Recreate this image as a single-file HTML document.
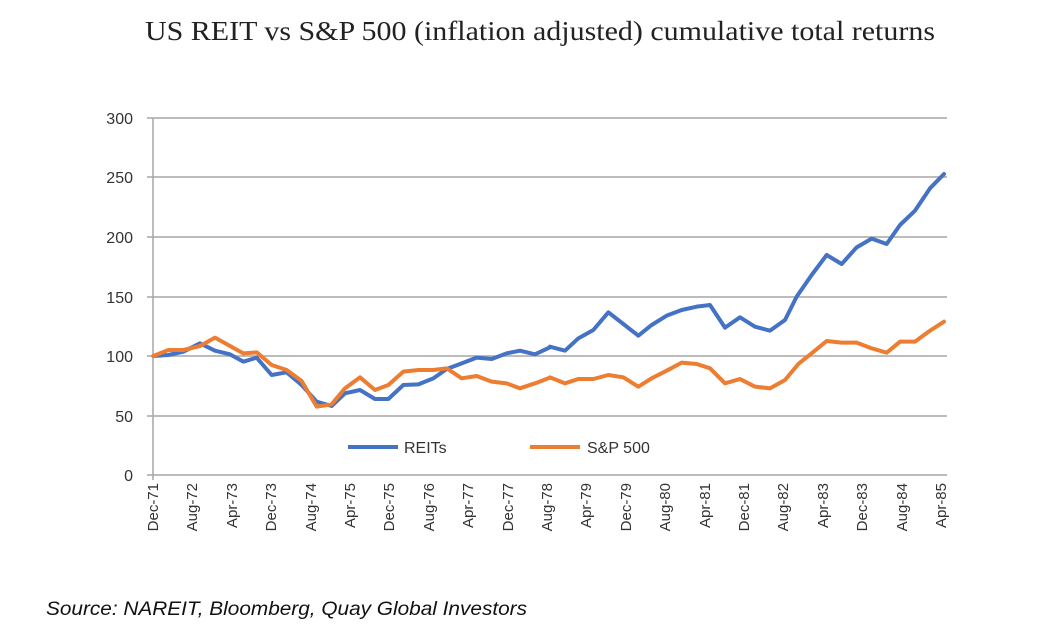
<!DOCTYPE html>
<html><head><style>
body{margin:0;background:#fff;}
svg{display:block;}
</style></head><body>
<svg width="1045" height="639" xmlns="http://www.w3.org/2000/svg">
<text x="145" y="40" textLength="790" lengthAdjust="spacingAndGlyphs" font-family="Liberation Serif, serif" font-size="27" fill="#222">US REIT vs S&amp;P 500 (inflation adjusted) cumulative total returns</text>
<g stroke="#a6a6a6" stroke-width="1.5">
<line x1="147" y1="118" x2="947" y2="118"/>
<line x1="147" y1="177" x2="947" y2="177"/>
<line x1="147" y1="237" x2="947" y2="237"/>
<line x1="147" y1="297" x2="947" y2="297"/>
<line x1="147" y1="356" x2="947" y2="356"/>
<line x1="147" y1="416" x2="947" y2="416"/>
<line x1="147" y1="475" x2="947" y2="475"/>
<line x1="153" y1="118" x2="153" y2="480"/>
</g>
<g font-family="Liberation Sans, sans-serif" font-size="16" fill="#333" text-anchor="end">
<text x="133" y="124">300</text><text x="133" y="183">250</text><text x="133" y="243">200</text>
<text x="133" y="303">150</text><text x="133" y="362">100</text><text x="133" y="422">50</text><text x="133" y="481">0</text>
</g>
<g font-family="Liberation Sans, sans-serif" font-size="15" fill="#333" text-anchor="end">
<text transform="translate(158,483) rotate(-90)">Dec-71</text>
<text transform="translate(197,483) rotate(-90)">Aug-72</text>
<text transform="translate(237,483) rotate(-90)">Apr-73</text>
<text transform="translate(276,483) rotate(-90)">Dec-73</text>
<text transform="translate(316,483) rotate(-90)">Aug-74</text>
<text transform="translate(355,483) rotate(-90)">Apr-75</text>
<text transform="translate(394,483) rotate(-90)">Dec-75</text>
<text transform="translate(434,483) rotate(-90)">Aug-76</text>
<text transform="translate(473,483) rotate(-90)">Apr-77</text>
<text transform="translate(513,483) rotate(-90)">Dec-77</text>
<text transform="translate(552,483) rotate(-90)">Aug-78</text>
<text transform="translate(591,483) rotate(-90)">Apr-79</text>
<text transform="translate(631,483) rotate(-90)">Dec-79</text>
<text transform="translate(670,483) rotate(-90)">Aug-80</text>
<text transform="translate(710,483) rotate(-90)">Apr-81</text>
<text transform="translate(749,483) rotate(-90)">Dec-81</text>
<text transform="translate(788,483) rotate(-90)">Aug-82</text>
<text transform="translate(828,483) rotate(-90)">Apr-83</text>
<text transform="translate(867,483) rotate(-90)">Dec-83</text>
<text transform="translate(907,483) rotate(-90)">Aug-84</text>
<text transform="translate(946,483) rotate(-90)">Apr-85</text>
</g>
<g fill="none" stroke-linejoin="round" stroke-linecap="round" stroke-width="12">
<g transform="translate(140,160) scale(0.33333)">
<polyline stroke="#4472c4" points="40,588 85,585 130,575 180,550 225,572 270,583 310,605 350,593 395,645 440,637 485,675 530,725 575,738 615,700 660,690 705,717 745,717 790,675 835,673 880,655 920,627 965,610 1010,593 1055,597 1100,580 1140,572 1185,583 1230,562"/>
<polyline stroke="#ed7d31" points="40,588 85,570 130,570 180,558 225,533 270,558 310,580 350,577 395,615 440,630 485,663 530,740 575,733 615,685 660,652 705,690 745,675 790,635 835,630 880,630 920,625 965,655 1010,648 1055,665 1100,670 1140,685 1185,670 1230,653"/>
</g>
<g transform="translate(540,160) scale(0.33333)">
<polyline stroke="#4472c4" points="30,560 75,572 115,535 160,510 205,457 250,492 295,527 335,495 380,467 425,450 470,440 510,435 555,503 600,472 645,500 690,512 735,480 770,410 815,345 860,285 905,312 950,262 995,236 1040,252 1080,195 1125,152 1170,85 1212,42"/>
<polyline stroke="#ed7d31" points="30,652 75,670 115,657 160,657 205,645 250,652 295,680 335,655 380,632 425,608 470,612 510,625 555,670 600,657 645,680 690,685 735,660 775,612 815,580 860,543 905,548 950,548 995,565 1040,578 1080,545 1125,545 1170,512 1212,485"/>
</g>
</g>
<line x1="348" y1="447" x2="398" y2="447" stroke="#4472c4" stroke-width="4"/>
<text x="404" y="453" font-family="Liberation Sans, sans-serif" font-size="16" fill="#333">REITs</text>
<line x1="530" y1="447" x2="580" y2="447" stroke="#ed7d31" stroke-width="4"/>
<text x="587" y="453" font-family="Liberation Sans, sans-serif" font-size="16" fill="#333">S&amp;P 500</text>
<text x="46" y="615" textLength="481" lengthAdjust="spacingAndGlyphs" font-family="Liberation Sans, sans-serif" font-style="italic" font-size="19" fill="#111">Source: NAREIT, Bloomberg, Quay Global Investors</text>
</svg>
</body></html>
